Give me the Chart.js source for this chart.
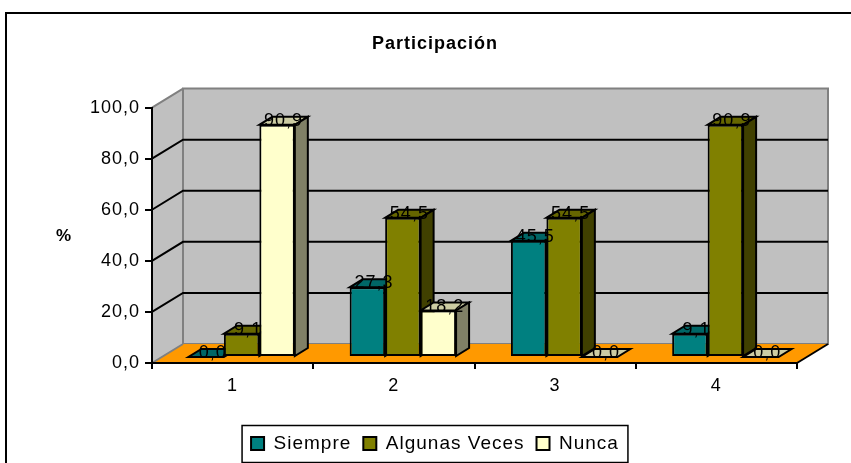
<!DOCTYPE html>
<html>
<head>
<meta charset="utf-8">
<script src="https://cdn.jsdelivr.net/npm/chart.js@4.4.0/dist/chart.umd.min.js"></script>
<style>
    html, body { margin: 0; padding: 0; overflow: hidden; background: #fff; }
    canvas { display: block; }
</style>
</head>
<body>
<canvas id="chart" width="870" height="470"></canvas>
<script>
// Participación - 3D clustered columns (Excel style)

const categories = ['1', '2', '3', '4'];
const siempre = [0.0, 27.3, 45.5, 9.1];
const algunasVeces = [9.1, 54.5, 54.5, 90.9];
const nunca = [90.9, 18.2, 0.0, 0.0];
const yTicks = [0, 20, 40, 60, 80, 100];

const FONT = '"Liberation Sans", Arial, sans-serif';

// depth of the floor / walls and of each bar
const WALL_DX = 31, WALL_DY = -19;
const BAR_SHIFT_X = 9, BAR_SHIFT_Y = -6;
const BAR_DX = 13, BAR_DY = -8;

const seriesColors = [
    { front: '#008080', top: '#006666', side: '#004040' },
    { front: '#808000', top: '#666600', side: '#404000' },
    { front: '#FFFFCC', top: '#CCCCA3', side: '#808066' }
];

function fmt(v) {
    return v.toFixed(1).replace('.', ',');
}

function poly(ctx, pts, fill, stroke, width) {
    ctx.beginPath();
    ctx.moveTo(pts[0][0], pts[0][1]);
    for (let i = 1; i < pts.length; i++) ctx.lineTo(pts[i][0], pts[i][1]);
    ctx.closePath();
    if (fill) { ctx.fillStyle = fill; ctx.fill(); }
    if (stroke) { ctx.strokeStyle = stroke; ctx.lineWidth = width || 1; ctx.stroke(); }
}

const spacingPlugin = {
    id: 'spacing',
    beforeLayout(chart) { chart.ctx.letterSpacing = '1px'; },
    beforeDraw(chart) { chart.ctx.letterSpacing = '1px'; }
};

// walls, floor and gridlines behind the bars
const wallsPlugin = {
    id: 'walls',
    beforeDraw(chart) {
        const ctx = chart.ctx;
        const y = chart.scales.y;
        const x0 = chart.chartArea.left, x1 = chart.chartArea.right;
        const yTop = y.getPixelForValue(100), yBase = y.getPixelForValue(0);
        ctx.save();
        ctx.lineJoin = 'miter';

        // outer frame
        ctx.strokeStyle = '#000';
        ctx.lineWidth = 2;
        ctx.strokeRect(6, 13, chart.width + 20, chart.height + 20);

        // left wall
        poly(ctx, [[x0, yBase], [x0, yTop], [x0 + WALL_DX, yTop + WALL_DY], [x0 + WALL_DX, yBase + WALL_DY]], '#C0C0C0');
        // back wall
        poly(ctx, [[x0 + WALL_DX, yTop + WALL_DY], [x1 + WALL_DX, yTop + WALL_DY], [x1 + WALL_DX, yBase + WALL_DY], [x0 + WALL_DX, yBase + WALL_DY]], '#C0C0C0', '#808080', 2);
        // floor
        poly(ctx, [[x0, yBase], [x1, yBase], [x1 + WALL_DX, yBase + WALL_DY], [x0 + WALL_DX, yBase + WALL_DY]], '#FF9900');

        // gray edges
        ctx.strokeStyle = '#808080';
        ctx.lineWidth = 2;
        ctx.beginPath();
        ctx.moveTo(x0, yTop); ctx.lineTo(x0 + WALL_DX, yTop + WALL_DY);
        ctx.moveTo(x0 + WALL_DX, yTop + WALL_DY); ctx.lineTo(x0 + WALL_DX, yBase + WALL_DY);
        ctx.moveTo(x0, yBase); ctx.lineTo(x0 + WALL_DX, yBase + WALL_DY);
        ctx.stroke();

        // floor right edge
        ctx.strokeStyle = '#000';
        ctx.beginPath();
        ctx.moveTo(x1, yBase); ctx.lineTo(x1 + WALL_DX, yBase + WALL_DY);
        ctx.stroke();

        // gridlines: left wall diagonal + back wall horizontal
        ctx.strokeStyle = '#000';
        ctx.lineWidth = 2;
        yTicks.forEach(v => {
            if (v === 0 || v === 100) return;
            const py = y.getPixelForValue(v);
            ctx.beginPath();
            ctx.moveTo(x0, py);
            ctx.lineTo(x0 + WALL_DX, py + WALL_DY);
            ctx.lineTo(x1 + WALL_DX, py + WALL_DY);
            ctx.stroke();
        });

        // "%" axis label
        ctx.fillStyle = '#000';
        ctx.font = 'bold 17px ' + FONT;
        ctx.textAlign = 'center';
        ctx.textBaseline = 'middle';
        ctx.fillText('%', 64, 236);
        ctx.restore();
    },
    afterDraw(chart) {
        // box round the legend
        const lg = chart.legend;
        const boxes = lg.legendHitBoxes;
        if (!boxes || !boxes.length) return;
        const first = boxes[0], last = boxes[boxes.length - 1];
        const mid = first.top + first.height / 2;
        const ctx = chart.ctx;
        ctx.save();
        ctx.strokeStyle = '#000';
        ctx.lineWidth = 1.5;
        ctx.strokeRect(first.left - 9, mid - 18, last.left + last.width - first.left + 18, 37);
        ctx.restore();
    }
};

// 3D top and side faces, shifted bars, value labels
const bars3dPlugin = {
    id: 'bars3d',
    beforeDatasetsDraw(chart) {
        const ctx = chart.ctx;
        ctx.save();
        ctx.translate(BAR_SHIFT_X, BAR_SHIFT_Y);
        ctx.lineJoin = 'miter';
        chart.data.datasets.forEach((ds, di) => {
            const meta = chart.getDatasetMeta(di);
            const c = seriesColors[di];
            meta.data.forEach(bar => {
                const l = bar.x - bar.width / 2, r = bar.x + bar.width / 2;
                const t = bar.y, b = bar.base;
                poly(ctx, [[l, t], [r, t], [r + BAR_DX, t + BAR_DY], [l + BAR_DX, t + BAR_DY]], c.top, '#000', 2);
                if (b - t > 0.5) {
                    poly(ctx, [[r, t], [r + BAR_DX, t + BAR_DY], [r + BAR_DX, b + BAR_DY], [r, b]], c.side, '#000', 2);
                }
            });
        });
    },
    afterDatasetsDraw(chart) {
        const ctx = chart.ctx;
        ctx.fillStyle = '#000';
        ctx.font = '18px ' + FONT;
        ctx.textAlign = 'center';
        ctx.textBaseline = 'alphabetic';
        chart.data.datasets.forEach((ds, di) => {
            const meta = chart.getDatasetMeta(di);
            meta.data.forEach((bar, i) => {
                ctx.fillText(fmt(ds.data[i]), bar.x + BAR_DX / 2, bar.y + 1);
            });
        });
        ctx.restore();
    }
};

const ctx = document.getElementById('chart').getContext('2d');

new Chart(ctx, {
    type: 'bar',
    data: {
        labels: categories,
        datasets: [
            { label: 'Siempre', data: siempre, backgroundColor: seriesColors[0].front },
            { label: 'Algunas Veces', data: algunasVeces, backgroundColor: seriesColors[1].front },
            { label: 'Nunca', data: nunca, backgroundColor: seriesColors[2].front }
        ].map(d => Object.assign(d, {
            borderColor: '#000',
            borderWidth: 2,
            borderSkipped: false,
            categoryPercentage: 0.66,
            barPercentage: 1.0
        }))
    },
    options: {
        responsive: false,
        animation: false,
        devicePixelRatio: 1,
        layout: {
            padding: { left: 73, right: 73, top: 0, bottom: 7 }
        },
        plugins: {
            title: {
                display: true,
                text: 'Participación',
                color: '#000',
                font: { family: FONT, size: 18, weight: 'bold' },
                padding: { top: 33, bottom: 53 }
            },
            legend: {
                position: 'bottom',
                labels: {
                    color: '#000',
                    font: { family: FONT, size: 19 },
                    boxWidth: 13,
                    boxHeight: 13,
                    padding: 12
                }
            },
            tooltip: { enabled: false }
        },
        scales: {
            x: {
                afterFit: scale => { scale.height = 59; },
                grid: {
                    display: true,
                    drawOnChartArea: false,
                    drawTicks: true,
                    tickLength: 6,
                    color: '#000',
                    lineWidth: 2,
                    offset: true
                },
                border: { display: true, color: '#000', width: 2 },
                ticks: {
                    color: '#000',
                    font: { family: FONT, size: 18 },
                    padding: 6
                }
            },
            y: {
                min: 0,
                max: 100,
                afterFit: scale => { scale.width = 79; },
                afterBuildTicks: scale => {
                    scale.ticks = yTicks.map(v => ({ value: v }));
                },
                grid: {
                    display: true,
                    drawOnChartArea: false,
                    drawTicks: true,
                    tickLength: 7,
                    color: '#000',
                    lineWidth: 2
                },
                border: { display: true, color: '#000', width: 2 },
                ticks: {
                    color: '#000',
                    font: { family: FONT, size: 18 },
                    padding: 5,
                    callback: v => fmt(v)
                }
            }
        }
    },
    plugins: [spacingPlugin, wallsPlugin, bars3dPlugin]
});
</script>
</body>
</html>
